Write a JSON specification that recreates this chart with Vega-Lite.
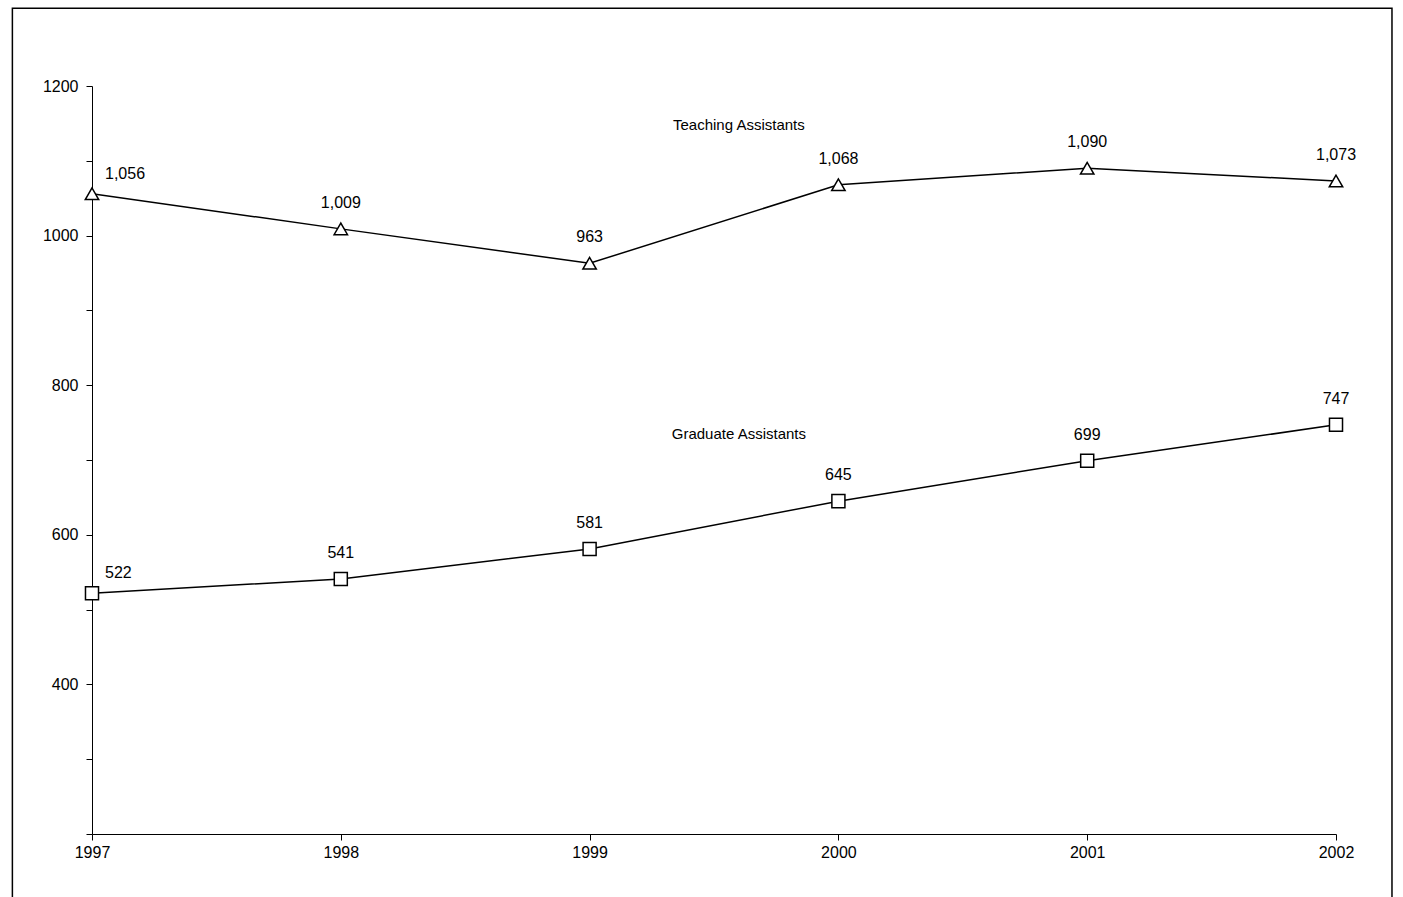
{
  "$schema": "https://vega.github.io/schema/vega-lite/v6.json",
  "autosize": "none",
  "width": 1244,
  "height": 748,
  "padding": {"left": 92, "top": 86, "right": 67, "bottom": 63},
  "background": "white",
  "config": {"view": {"stroke": null}, "font": "Liberation Sans"},
  "datasets": {
    "pts": [
      {"year": 1997, "series": "Teaching Assistants", "value": 1056},
      {"year": 1998, "series": "Teaching Assistants", "value": 1009},
      {"year": 1999, "series": "Teaching Assistants", "value": 963},
      {"year": 2000, "series": "Teaching Assistants", "value": 1068},
      {"year": 2001, "series": "Teaching Assistants", "value": 1090},
      {"year": 2002, "series": "Teaching Assistants", "value": 1073},
      {"year": 1997, "series": "Graduate Assistants", "value": 522},
      {"year": 1998, "series": "Graduate Assistants", "value": 541},
      {"year": 1999, "series": "Graduate Assistants", "value": 581},
      {"year": 2000, "series": "Graduate Assistants", "value": 645},
      {"year": 2001, "series": "Graduate Assistants", "value": 699},
      {"year": 2002, "series": "Graduate Assistants", "value": 747}
    ],
    "names": [
      {"year": 1999.6, "value": 1148, "label": "Teaching Assistants"},
      {"year": 1999.6, "value": 735, "label": "Graduate Assistants"}
    ],
    "frame": [
      {"x1": 1996.68, "x2": 2002.225, "y1": 1304, "y2": 110}
    ]
  },
  "encoding": {
    "x": {
      "field": "year", "type": "quantitative",
      "scale": {"domain": [1997, 2002], "nice": false, "zero": false},
      "axis": {"values": [1997, 1998, 1999, 2000, 2001, 2002], "format": "d", "title": null, "grid": false,
        "labelFlush": false, "labelBound": false, "labelOverlap": false,
        "domainColor": "black", "tickColor": "black", "tickSize": 6, "labelColor": "black", "labelFontSize": 16, "labelPadding": 4}
    },
    "y": {
      "field": "value", "type": "quantitative",
      "scale": {"domain": [200, 1200], "nice": false, "zero": false},
      "axis": {"values": [200, 300, 400, 500, 600, 700, 800, 900, 1000, 1100, 1200],
        "labelExpr": "datum.value % 200 == 0 && datum.value > 200 ? datum.value : ''",
        "title": null, "grid": false, "domainColor": "black", "tickColor": "black", "tickSize": 6,
        "labelColor": "black", "labelFontSize": 16, "labelPadding": 8}
    }
  },
  "layer": [
    {
      "data": {"name": "frame"},
      "mark": {"type": "rect", "fill": null, "stroke": "black", "strokeWidth": 1.5, "clip": false},
      "encoding": {
        "x": {"field": "x1", "type": "quantitative"},
        "x2": {"field": "x2"},
        "y": {"field": "y1", "type": "quantitative"},
        "y2": {"field": "y2"}
      }
    },
    {
      "data": {"name": "pts"},
      "mark": {"type": "line", "color": "black", "strokeWidth": 1.5},
      "encoding": {"detail": {"field": "series"}}
    },
    {
      "data": {"name": "pts"},
      "transform": [{"filter": "datum.series == 'Teaching Assistants'"}],
      "mark": {"type": "point", "shape": "triangle-up", "size": 180, "filled": true, "fill": "white", "stroke": "black", "strokeWidth": 1.5, "opacity": 1}
    },
    {
      "data": {"name": "pts"},
      "transform": [{"filter": "datum.series == 'Graduate Assistants'"}],
      "mark": {"type": "point", "shape": "square", "size": 170, "filled": true, "fill": "white", "stroke": "black", "strokeWidth": 1.5, "opacity": 1}
    },
    {
      "data": {"name": "pts"},
      "transform": [{"filter": "datum.year > 1997"}],
      "mark": {"type": "text", "fontSize": 16, "dy": -26, "color": "black"},
      "encoding": {"text": {"field": "value", "format": ","}}
    },
    {
      "data": {"name": "pts"},
      "transform": [{"filter": "datum.year == 1997"}],
      "mark": {"type": "text", "fontSize": 16, "dy": -20, "dx": 13, "align": "left", "color": "black"},
      "encoding": {"text": {"field": "value", "format": ","}}
    },
    {
      "data": {"name": "names"},
      "mark": {"type": "text", "fontSize": 15, "color": "black"},
      "encoding": {"text": {"field": "label"}}
    }
  ]
}
